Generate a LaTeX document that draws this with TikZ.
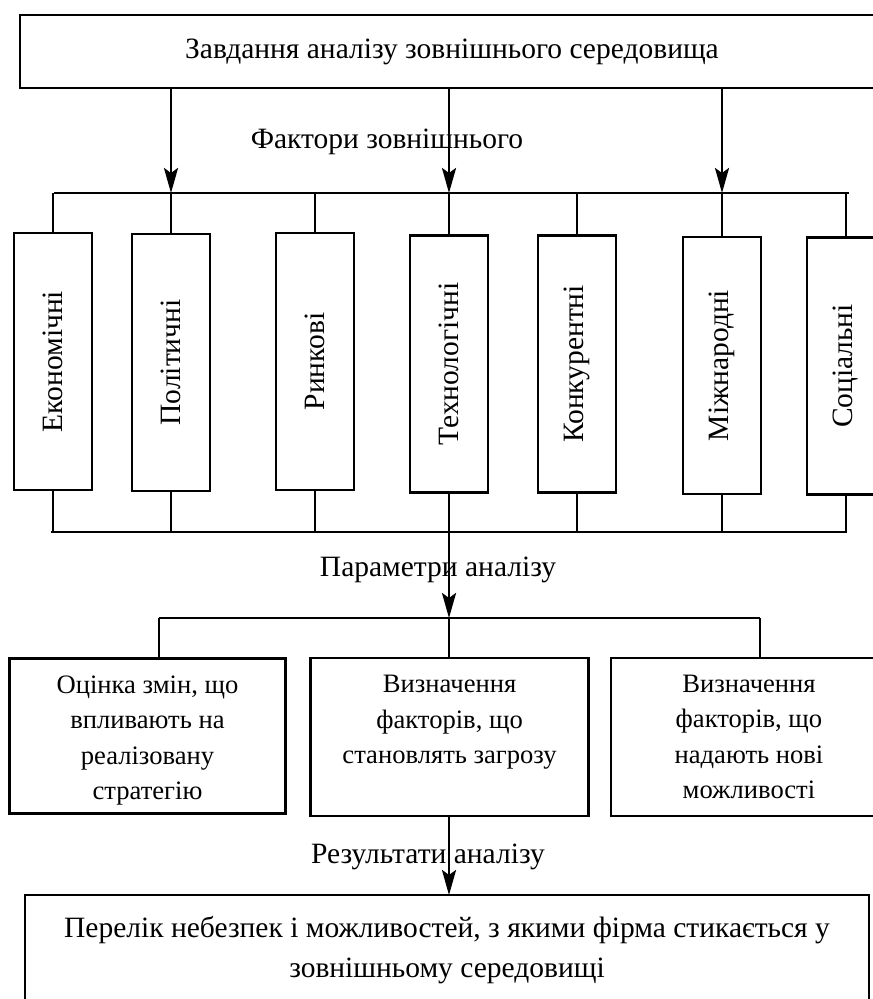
\documentclass[tikz,border=0pt]{standalone}
\usepackage{fontspec}
\setmainfont{Liberation Serif}
\usetikzlibrary{arrows.meta}
\begin{document}
\begin{tikzpicture}[x=1pt,y=-1pt,
  box/.style={draw, line width=2.5pt, inner sep=0pt, outer sep=0pt, font=\fontsize{29.5}{35.4}\selectfont, align=center},
  fbox/.style={box, rotate=90, minimum width=257pt, minimum height=78pt},
  rbox/.style={box, font=\fontsize{26.6}{35.4}\selectfont},
  link/.style={line width=2pt},
  arr/.style={line width=2.8pt, -{Stealth[length=25pt,width=14pt,inset=5pt]}},
  lab/.style={font=\fontsize{29.5}{35}\selectfont, inner sep=0pt}
]
\useasboundingbox (0,0) rectangle (873,999);
\clip (0,0) rectangle (873,999);

% top box
\node[box, minimum width=864pt, minimum height=73pt] (top) at (452,51.5) {Завдання аналізу зовнішнього середовища};

% factor boxes
\node[fbox] (f1) at (53,361.5) {Економічні};
\node[fbox] (f2) at (171,362.5) {Політичні};
\node[fbox] (f3) at (315,361.5) {Ринкові};
\node[fbox] (f4) at (449,364) {Технологічні};
\node[fbox] (f5) at (577,364) {Конкурентні};
\node[fbox] (f6) at (722,365.5) {Міжнародні};
\node[fbox] (f7) at (846,366) {Соціальні};

% result boxes
\node[rbox, minimum width=276pt, minimum height=155pt] (r1) at (147.5,736) {\rule{0pt}{27pt}Оцінка змін, що\\впливають на\\реалізовану\\стратегію};
\node[rbox, minimum width=278pt, minimum height=158pt] (r2) at (449.6,737) {Визначення\\факторів, що\\становлять загрозу\\\mbox{}};
\node[rbox, minimum width=276pt, minimum height=158pt] (r3) at (749,737) {Визначення\\факторів, що\\надають нові\\можливості};

% final box
\node[box, font=\fontsize{29.5}{40}\selectfont, minimum width=844pt, minimum height=110pt, anchor=north west] (res) at (25,895) {Перелік небезпек і можливостей, з якими фірма стикається у\\зовнішньому середовищі};

% labels
\node[lab] (l1) at (387,142) {Фактори зовнішнього};
\node[lab] (l2) at (438,570) {Параметри аналізу};
\node[lab] (l3) at (428,857) {Результати аналізу};

% buses
\coordinate (b1L) at (54,193);
\coordinate (b1R) at (849,193);
\coordinate (b2L) at (51,532);
\coordinate (b2R) at (847,532);
\coordinate (b3L) at (159,618);
\coordinate (b3R) at (760,618);

\draw[link] (b1L) -- (b1R);
\draw[link] (b2L) -- (b2R);
\draw[link] (b3L) -- (b3R);

\foreach \n in {f1,f2,f3,f4,f5,f6,f7}{
  \draw[link] (\n.east) -- (\n.east |- b1L);
  \draw[link] (\n.west) -- (\n.west |- b2L);
}

\draw[link] (b3L) -- (b3L |- r1.north);
\draw[link] (b3R) -- (b3R |- r3.north);
\draw[link] (f4.west |- b3L) -- (f4.west |- r2.north);

% arrows
\draw[arr] (top.south -| f2.east) -- (f2.east |- b1L);
\draw[arr] (top.south -| f4.east) -- (f4.east |- b1L);
\draw[arr] (top.south -| f6.east) -- (f6.east |- b1L);
\draw[arr] (f4.west |- b2L) -- (f4.west |- b3L);
\draw[arr] (f4.west |- r2.south) -- (f4.west |- res.north);
\end{tikzpicture}
\end{document}
